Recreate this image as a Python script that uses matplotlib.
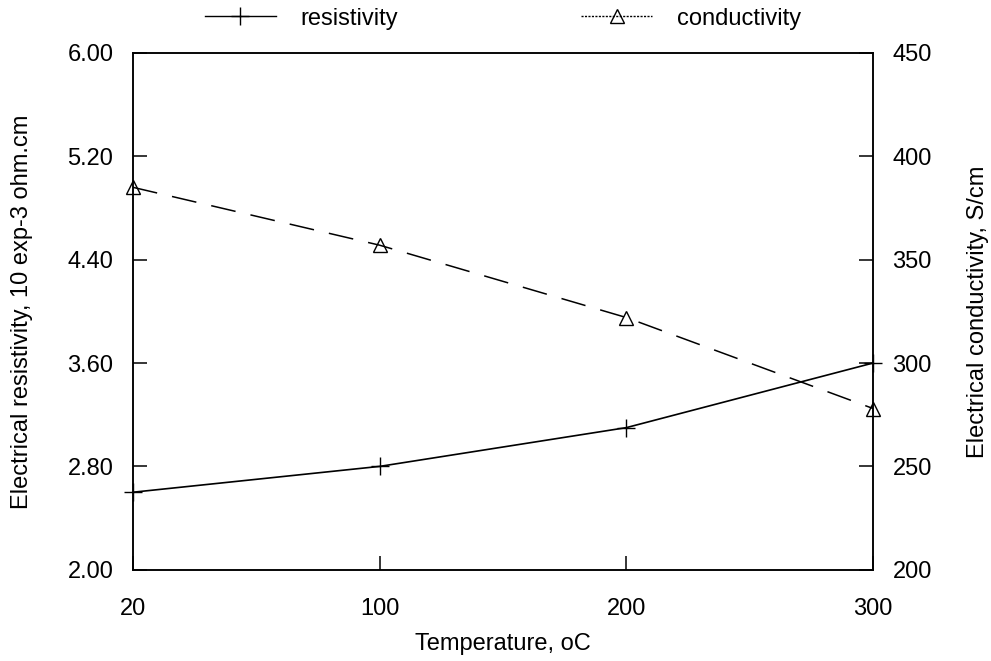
"""
Resistivity / conductivity vs temperature, twin y axes.
"""
import matplotlib
matplotlib.use('Agg')
import matplotlib.pyplot as plt
from matplotlib.lines import Line2D

plt.rcParams.update({'font.family': ['Liberation Sans', 'DejaVu Sans'], 'font.size': 17,
                     'axes.linewidth': 1.1, 'lines.scale_dashes': False})

temps = ['20', '100', '200', '300']
resistivity = [2.60, 2.80, 3.10, 3.60]        # 10 exp-3 ohm.cm
conductivity = [385, 357, 322, 278]           # S/cm
res_ticks = [2.00, 2.80, 3.60, 4.40, 5.20, 6.00]
cond_ticks = [200, 250, 300, 350, 400, 450]

x = list(range(len(temps)))

fig = plt.figure(figsize=(9.91, 6.61), dpi=100)
ax = fig.add_axes([0.134, 0.138, 0.747, 0.782])
ax2 = ax.twinx()

ax.plot(x, resistivity, color='black', lw=1.2, marker='+', ms=13, mew=1.0, clip_on=False)
ax2.plot(x, conductivity, color='black', lw=1.1, dashes=(18, 11), marker='^', ms=10,
         mfc='none', mec='black', mew=1.0, clip_on=False)

ax.set_xlim(0, 3)
ax.set_xticks(x)
ax.set_xticklabels(temps)
ax.set_ylim(2.0, 6.0)
ax.set_yticks(res_ticks)
ax.set_yticklabels([f'{v:.2f}' for v in res_ticks])
ax2.set_ylim(200, 450)
ax2.set_yticks(cond_ticks)

ax.tick_params(axis='x', direction='in', length=10, width=1.1, pad=20)
ax.tick_params(axis='y', direction='in', length=10, width=1.1, pad=14)
ax2.tick_params(axis='y', direction='in', length=10, width=1.1, pad=14)

ax.set_xlabel('Temperature, oC', labelpad=10)
ax.set_ylabel('Electrical resistivity, 10 exp-3 ohm.cm', labelpad=25)
ax2.set_ylabel('Electrical conductivity, S/cm', labelpad=25)

handles = [
    Line2D([], [], color='black', lw=1.0, marker='+', ms=13, mew=1.0),
    Line2D([], [], color='black', lw=1.0, ls=(0, (1.5, 1)), marker='^', ms=10,
           mfc='none', mec='black', mew=1.0),
]
fig.legend(handles, ['resistivity', 'conductivity'], loc='center', bbox_to_anchor=(0.5076, 0.972),
           ncol=2, frameon=False, handlelength=3.0, handletextpad=1.05, columnspacing=7.75,
           fontsize=17)

fig.savefig('out.png', dpi=100)
